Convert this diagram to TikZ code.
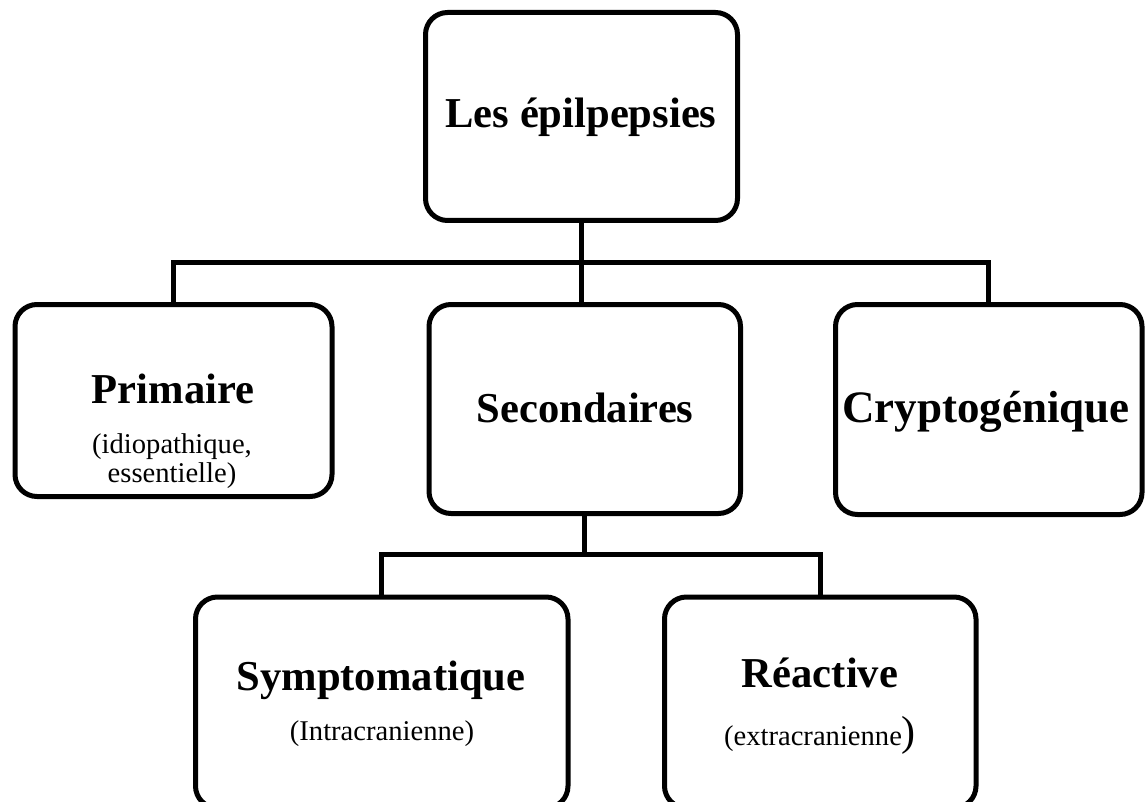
\documentclass[tikz,border=0pt]{standalone}
\usepackage{fontspec}
\setmainfont{Liberation Serif}
\usetikzlibrary{fit}
\tikzset{
  box/.style={draw, line width=2.5pt, rounded corners=11pt, inner sep=0pt, outer sep=0pt},
  link/.style={line width=2.6pt},
  title/.style={font=\fontsize{21.3}{25}\selectfont\bfseries, anchor=base, inner sep=0pt},
  note/.style={font=\fontsize{14.3}{17}\selectfont, anchor=base, inner sep=0pt},
}
\begin{document}
\begin{tikzpicture}[x=0.5pt, y=-0.5pt]
\clip (0,0) rectangle (1145,802);

% boxes
\node[box, fit={(425.5,12.5) (737.5,220.5)}] (root) {};
\node[box, fit={(15,304.5) (332,496.5)}] (prim) {};
\node[box, fit={(429,304.5) (740.5,513.5)}] (sec) {};
\node[box, fit={(835.5,304.5) (1142,514.5)}] (cryp) {};
\node[box, fit={(195.5,597) (568,808)}] (symp) {};
\node[box, fit={(664.5,597) (976,808)}] (reac) {};

% connectors
\path (root.south) ++(0,42) coordinate (j1);
\draw[link] (root.south) -- (j1);
\draw[link] (prim.north) |- (j1) -| (cryp.north);
\draw[link] (j1) -- (j1 |- sec.north);
\path (sec.south) ++(0,41) coordinate (j2);
\draw[link] (sec.south) -- (j2);
\draw[link] (symp.north) |- (j2) -| (reac.north);

% labels
\node[title] (tRoot) at (581,128) {Les épilpepsies};
\node[title] (tPrim) at (173,403) {Primaire};
\node[note] (nPrim1) at (172,453) {(idiopathique,};
\node[note] (nPrim2) at (172,482) {essentielle)};
\node[title] (tSec) at (585,422) {Secondaires};
\node[title, font=\fontsize{22.5}{26}\selectfont\bfseries] (tCryp) at (986,422) {Cryptogénique};
\node[title] (tSymp) at (381,690) {Symptomatique};
\node[note] (nSymp) at (382,740) {(Intracranienne)};
\node[title] (tReac) at (820,687) {Réactive};
\node[note] (nReac) at (820,745) {(extracranienne{\fontsize{21}{25}\selectfont)}};
\end{tikzpicture}
\end{document}
